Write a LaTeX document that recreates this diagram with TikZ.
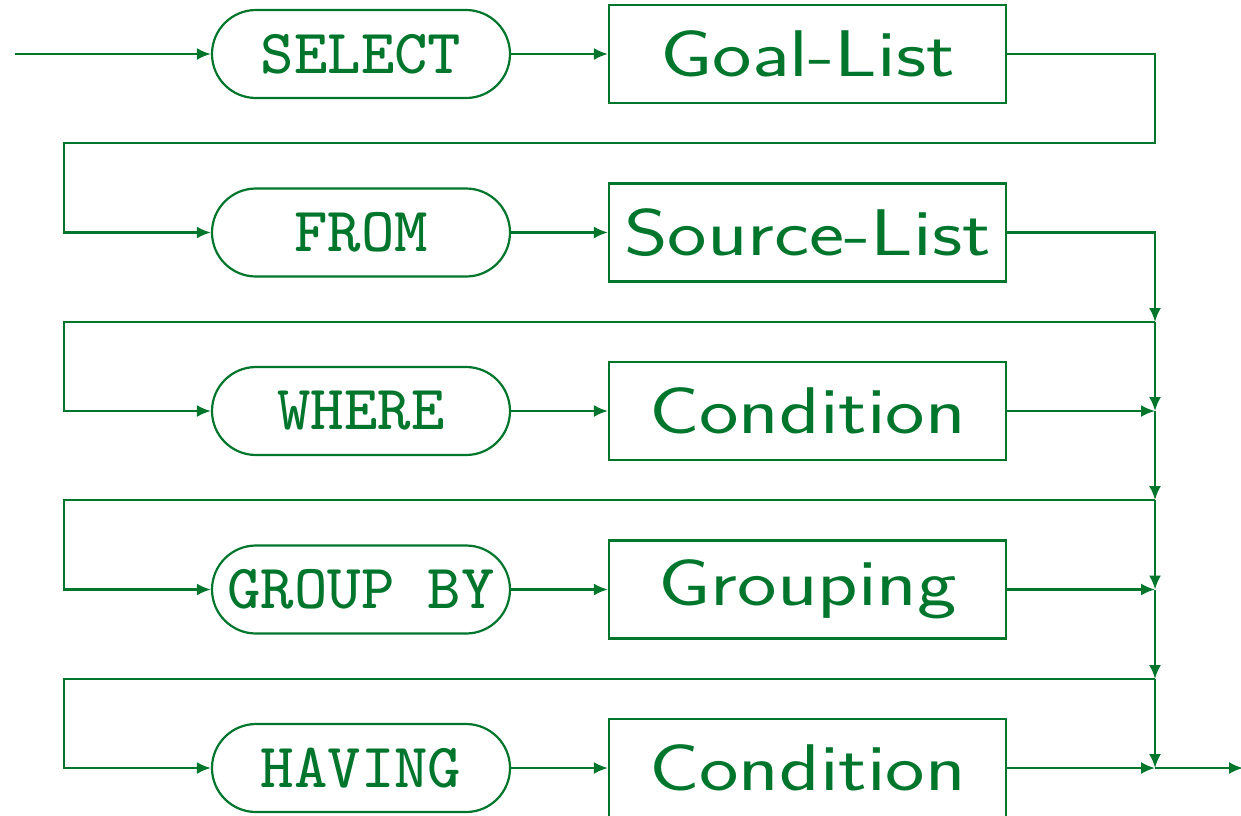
\documentclass[tikz,border=0pt]{standalone}
\usepackage{fontspec}
\usetikzlibrary{arrows.meta}
\newfontfamily\kwfont{lmmono8-regular.otf}
\newfontfamily\ntfont[FakeStretch=1.27]{lmsans17-regular.otf}
\definecolor{sqlgreen}{RGB}{0,118,45}
\tikzset{
  kw/.style={draw=sqlgreen, text=sqlgreen, line width=1.1pt, rounded corners=22pt,
    minimum width=149pt, minimum height=44pt, inner sep=0pt,
    font=\kwfont\fontsize{31.5}{36}\selectfont},
  nt/.style={draw=sqlgreen, text=sqlgreen, line width=1.1pt,
    minimum width=198.5pt, minimum height=49pt, inner sep=0pt,
    font=\ntfont\fontsize{33}{38}\selectfont},
  conn/.style={draw=sqlgreen, line width=1.1pt},
  arr/.style={conn, -{Latex[length=7pt,width=6pt]}}
}
\begin{document}
\begin{tikzpicture}[x=0.5pt,y=-0.5pt]
\useasboundingbox (0,0) rectangle (1241,815);
% nodes
\node[kw] (sel) at (361,54) {SELECT};
\node[nt] (goal) at (807.5,54) {Goal-List};
\node[kw] (from) at (361,232.5) {FROM};
\node[nt] (src) at (807.5,232.5) {Source-List};
\node[kw] (where) at (361,411) {WHERE};
\node[nt] (cond1) at (807.5,411) {Condition};
\node[kw] (group) at (361,589.5) {GROUP BY};
\node[nt] (grp) at (807.5,589.5) {Grouping};
\node[kw] (having) at (361,768) {HAVING};
\node[nt] (cond2) at (807.5,768) {Condition};
% coordinates
\coordinate (start) at (15,54);
\coordinate (t1) at (1155,143);
\coordinate (l1) at (64,143);
\coordinate (t2) at (1155,322);
\coordinate (l2) at (64,322);
\coordinate (j2) at (1155,411);
\coordinate (t3) at (1155,500);
\coordinate (l3) at (64,500);
\coordinate (j3) at (1155,589.5);
\coordinate (t4) at (1155,679);
\coordinate (l4) at (64,679);
\coordinate (j4) at (1155,768);
\coordinate (end) at (1243,768);
% connectors
\draw[arr] (start) -- (sel);
\draw[arr] (sel) -- (goal);
\draw[arr] (goal.east) -| (t1) -- (l1) |- (from.west);
\draw[arr] (from) -- (src);
\draw[arr] (src.east) -| (t2);
\draw[arr] (t2) -- (l2) |- (where.west);
\draw[arr] (where) -- (cond1);
\draw[arr] (t2) -- (j2);
\draw[arr] (cond1.east) -- (j2);
\draw[arr] (j2) -- (t3);
\draw[arr] (t3) -- (l3) |- (group.west);
\draw[arr] (group) -- (grp);
\draw[arr] (grp.east) -- (j3);
\draw[arr] (t3) -- (j3);
\draw[arr] (j3) -- (t4);
\draw[arr] (t4) -- (l4) |- (having.west);
\draw[arr] (having) -- (cond2);
\draw[arr] (cond2.east) -- (j4);
\draw[arr] (t4) -- (j4);
\draw[arr] (j4) -- (end);
\end{tikzpicture}
\end{document}
